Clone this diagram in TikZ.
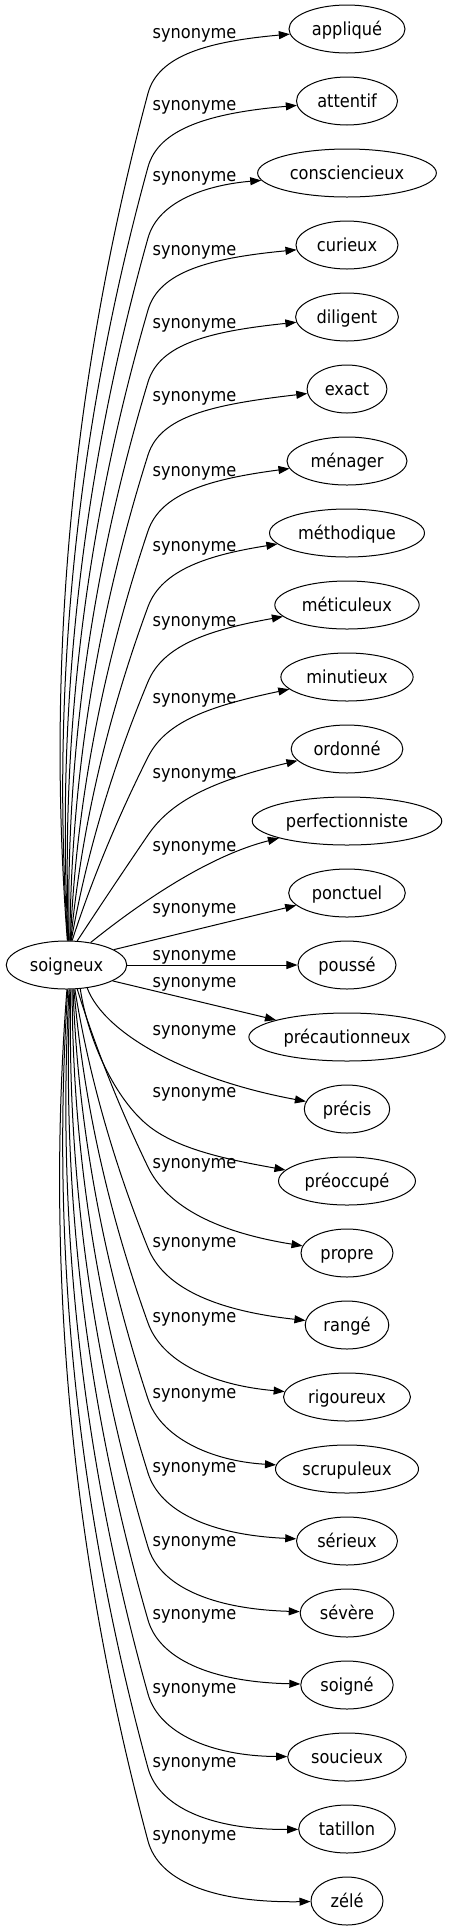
\documentclass[tikz,border=0pt]{standalone}
\usepackage{fontspec}
\setmainfont{DejaVu Sans}[FakeStretch=0.9]
\usetikzlibrary{arrows.meta,calc,shapes.geometric}
\tikzset{
  word/.style={ellipse, draw, line width=1pt, inner xsep=6pt, inner ysep=0pt,
    minimum width=72pt, minimum height=48pt, text height=16pt, text depth=4pt},
  lab/.style={anchor=base, inner sep=0pt},
  edge/.style={draw, line width=1pt, -{Triangle[length=11pt,width=8pt]}}
}
% #1 target, #2 start angle on soigneux, #3 bend y, #4 left bulge, #5 y of last control, #6 label baseline
\newcommand\synedge[6]{%
  \coordinate (S#1) at (soig.#2);
  \coordinate (B#1) at (148,#3);
  \coordinate (P#1) at ($(S#1)!1/3!(B#1)+(-#4,0)$);
  \coordinate (Q#1) at ($(S#1)!2/3!(B#1)+(-#4,0)$);
  \coordinate (R#1) at ($(B#1)!40pt!180:(Q#1)$);
  \coordinate (T#1) at (210,#5);
  \draw[edge] (S#1) .. controls (P#1) and (Q#1) .. (B#1) .. controls (R#1) and (T#1) .. (#1);
  \node[lab] (L#1) at (194.5,#6) {synonyme};
}
\begin{document}
\begin{tikzpicture}[x=1pt,y=-1pt,font=\fontsize{18}{20}\selectfont]
\useasboundingbox (0,0) rectangle (448,1931);
\node[word] (soig) at (66.5,965) {soigneux};
\node[word] (n0) at (347,29) {appliqué};
\node[word] (n1) at (347,101) {attentif};
\node[word] (n2) at (347,173) {consciencieux};
\node[word] (n3) at (347,245) {curieux};
\node[word] (n4) at (347,317) {diligent};
\node[word] (n5) at (347,389) {exact};
\node[word] (n6) at (347,461) {ménager};
\node[word] (n7) at (347,533) {méthodique};
\node[word] (n8) at (347,605) {méticuleux};
\node[word] (n9) at (347,677) {minutieux};
\node[word] (n10) at (347,749) {ordonné};
\node[word] (n11) at (347,821) {perfectionniste};
\node[word] (n12) at (347,893) {ponctuel};
\node[word] (n13) at (347,965) {poussé};
\node[word] (n14) at (347,1037) {précautionneux};
\node[word] (n15) at (347,1109) {précis};
\node[word] (n16) at (347,1181) {préoccupé};
\node[word] (n17) at (347,1253) {propre};
\node[word] (n18) at (347,1325) {rangé};
\node[word] (n19) at (347,1397) {rigoureux};
\node[word] (n20) at (347,1469) {scrupuleux};
\node[word] (n21) at (347,1541) {sérieux};
\node[word] (n22) at (347,1613) {sévère};
\node[word] (n23) at (347,1685) {soigné};
\node[word] (n24) at (347,1757) {soucieux};
\node[word] (n25) at (347,1829) {tatillon};
\node[word] (n26) at (347,1901) {zélé};
% upper edges
\synedge{n0}{88.8}{93.3}{48.6}{41.3}{38.3}
\synedge{n1}{87.6}{167}{44}{113}{110}
\synedge{n2}{86.4}{238}{39}{184.7}{181.7}
\synedge{n3}{85.2}{310}{34.5}{258}{255}
\synedge{n4}{84}{382}{29.8}{331.3}{328.3}
\synedge{n5}{82.9}{455}{25}{404.7}{401.7}
\synedge{n6}{81.7}{531}{20}{479}{476}
\synedge{n7}{80.5}{606.7}{15.2}{554.7}{551.7}
\synedge{n8}{79.3}{681.7}{10.3}{629.7}{626.7}
\synedge{n9}{77}{757}{5.4}{706}{703}
\synedge{n10}{66}{835}{0.5}{781.3}{778.3}
% near edges
\coordinate (S11) at (soig.43.4);
\draw[edge] (S11) .. controls (125,915) and (200,858) .. (n11);
\node[lab] (L11) at (194.5,851) {synonyme};
\draw[edge] (soig.18.7) -- (n12);
\node[lab] (L12) at (194.5,913.3) {synonyme};
\draw[edge] (soig) -- (n13);
\node[lab] (L13) at (194.5,960) {synonyme};
\draw[edge] (soig.341.3) -- (n14);
\node[lab] (L14) at (194.5,987) {synonyme};
\coordinate (S15) at (soig.312.2);
\draw[edge] (S15) .. controls (105,1035) and (190,1080) .. (n15);
\node[lab] (L15) at (194.5,1035) {synonyme};
\coordinate (S16) at (soig.300);
\coordinate (B16) at (150,1127);
\draw[edge] (S16) .. controls (88,1040) and (115,1100) .. (B16)
  .. controls (180,1150) and (230,1160) .. (n16);
\node[lab] (L16) at (194.5,1097) {synonyme};
% lower edges
\synedge{n17}{294}{1167}{5}{1231}{1168}
\synedge{n18}{289.7}{1248}{10.3}{1310}{1247}
\synedge{n19}{287.5}{1323}{15.2}{1385}{1322}
\synedge{n20}{285.2}{1399}{20}{1461}{1398}
\synedge{n21}{283}{1473}{25}{1535}{1472}
\synedge{n22}{280.7}{1547}{29.8}{1609}{1546}
\synedge{n23}{278.3}{1620}{34.5}{1682}{1619}
\synedge{n24}{276}{1694}{39.3}{1756}{1693}
\synedge{n25}{273.6}{1768}{44}{1830}{1767}
\synedge{n26}{271.2}{1841}{48.9}{1903}{1840}
\end{tikzpicture}
\end{document}
